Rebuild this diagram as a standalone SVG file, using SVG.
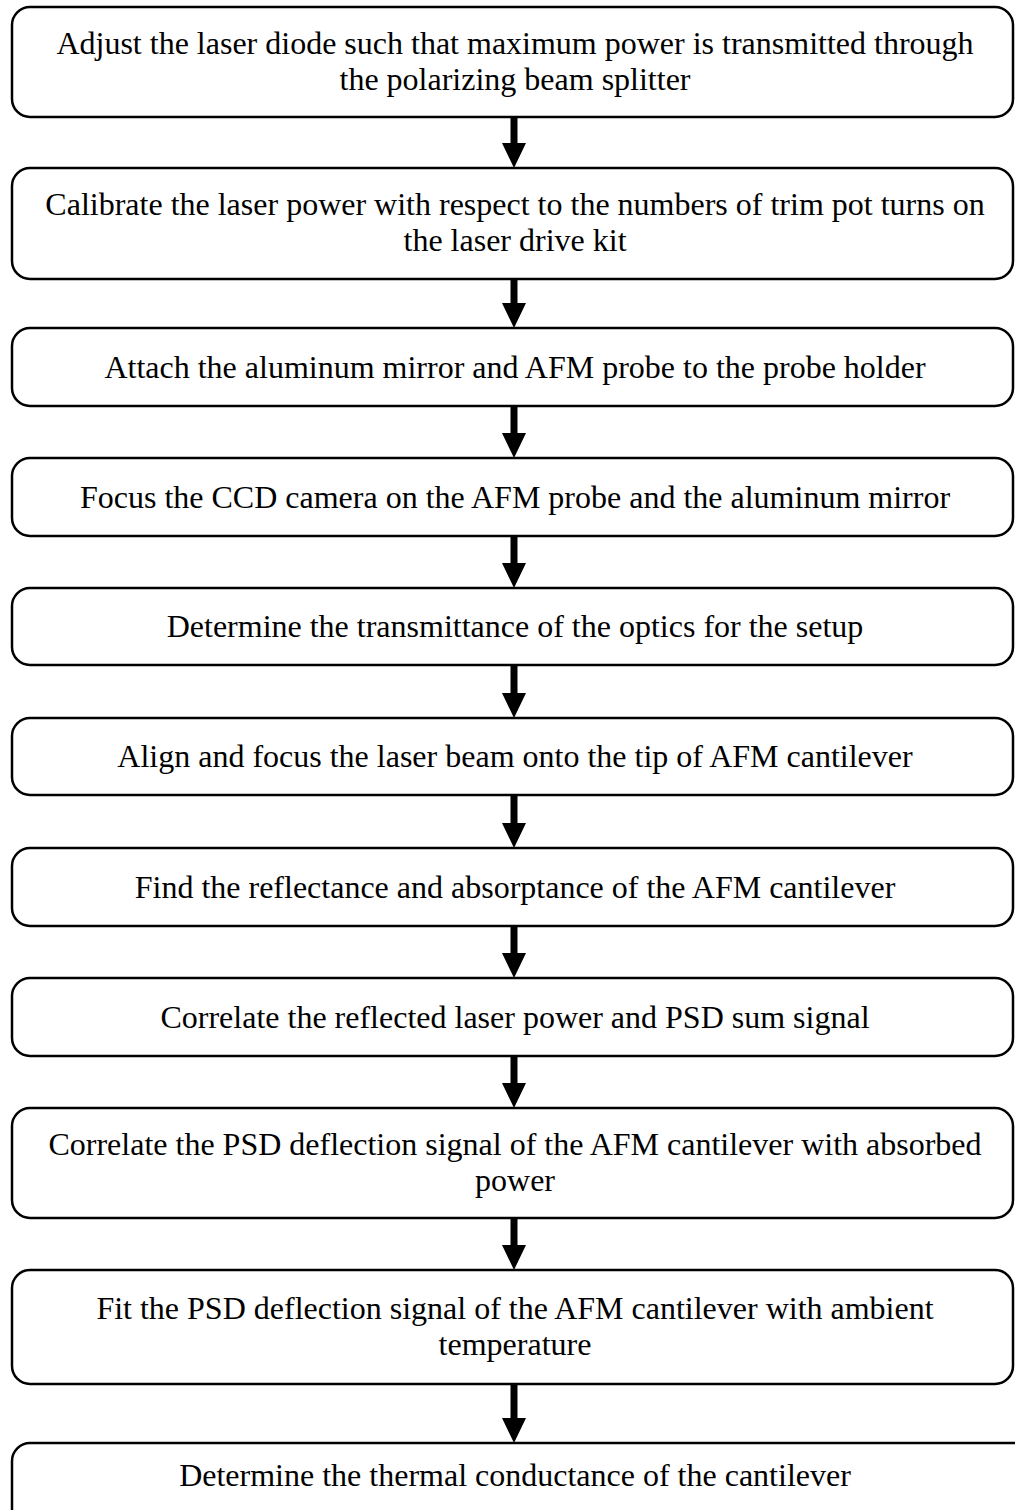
<svg xmlns="http://www.w3.org/2000/svg" width="1015" height="1510" viewBox="0 0 1015 1510">
<style>
.box{fill:#fff;stroke:#000;stroke-width:2.5}
.t{font-family:"Liberation Serif","Times New Roman",serif;font-size:32px;fill:#000;text-anchor:middle}
.arr{fill:#000;stroke:none}
</style>
<rect width="1015" height="1510" fill="#fff"/>
<g id="connectors">
<path class="arr" d="M510.5 117 H517.5 V143 H526 L514 168 L502 143 H510.5 Z"/>
<path class="arr" d="M510.5 279 H517.5 V303 H526 L514 328 L502 303 H510.5 Z"/>
<path class="arr" d="M510.5 406 H517.5 V433 H526 L514 458 L502 433 H510.5 Z"/>
<path class="arr" d="M510.5 536 H517.5 V563 H526 L514 588 L502 563 H510.5 Z"/>
<path class="arr" d="M510.5 665 H517.5 V693 H526 L514 718 L502 693 H510.5 Z"/>
<path class="arr" d="M510.5 795 H517.5 V823 H526 L514 848 L502 823 H510.5 Z"/>
<path class="arr" d="M510.5 926 H517.5 V953 H526 L514 978 L502 953 H510.5 Z"/>
<path class="arr" d="M510.5 1056 H517.5 V1083 H526 L514 1108 L502 1083 H510.5 Z"/>
<path class="arr" d="M510.5 1218 H517.5 V1245 H526 L514 1270 L502 1245 H510.5 Z"/>
<path class="arr" d="M510.5 1384 H517.5 V1418 H526 L514 1443 L502 1418 H510.5 Z"/>
</g>
<g id="n1"><rect class="box" x="12" y="7" width="1001" height="110" rx="18"/>
<text class="t" x="515" y="54">Adjust the laser diode such that maximum power is transmitted through</text>
<text class="t" x="515" y="90">the polarizing beam splitter</text></g>
<g id="n2"><rect class="box" x="12" y="168" width="1001" height="111" rx="18"/>
<text class="t" x="515" y="215">Calibrate the laser power with respect to the numbers of trim pot turns on</text>
<text class="t" x="515" y="251">the laser drive kit</text></g>
<g id="n3"><rect class="box" x="12" y="328" width="1001" height="78" rx="18"/>
<text class="t" x="515" y="378">Attach the aluminum mirror and AFM probe to the probe holder</text></g>
<g id="n4"><rect class="box" x="12" y="458" width="1001" height="78" rx="18"/>
<text class="t" x="515" y="508">Focus the CCD camera on the AFM probe and the aluminum mirror</text></g>
<g id="n5"><rect class="box" x="12" y="588" width="1001" height="77" rx="18"/>
<text class="t" x="515" y="637">Determine the transmittance of the optics for the setup</text></g>
<g id="n6"><rect class="box" x="12" y="718" width="1001" height="77" rx="18"/>
<text class="t" x="515" y="767">Align and focus the laser beam onto the tip of AFM cantilever</text></g>
<g id="n7"><rect class="box" x="12" y="848" width="1001" height="78" rx="18"/>
<text class="t" x="515" y="898">Find the reflectance and absorptance of the AFM cantilever</text></g>
<g id="n8"><rect class="box" x="12" y="978" width="1001" height="78" rx="18"/>
<text class="t" x="515" y="1028">Correlate the reflected laser power and PSD sum signal</text></g>
<g id="n9"><rect class="box" x="12" y="1108" width="1001" height="110" rx="18"/>
<text class="t" x="515" y="1155">Correlate the PSD deflection signal of the AFM cantilever with absorbed</text>
<text class="t" x="515" y="1191">power</text></g>
<g id="n10"><rect class="box" x="12" y="1270" width="1001" height="114" rx="18"/>
<text class="t" x="515" y="1319">Fit the PSD deflection signal of the AFM cantilever with ambient</text>
<text class="t" x="515" y="1355">temperature</text></g>
<g id="n11"><rect class="box" x="12" y="1443" width="1030" height="100" rx="18"/>
<text class="t" x="515" y="1486">Determine the thermal conductance of the cantilever</text></g>
</svg>
